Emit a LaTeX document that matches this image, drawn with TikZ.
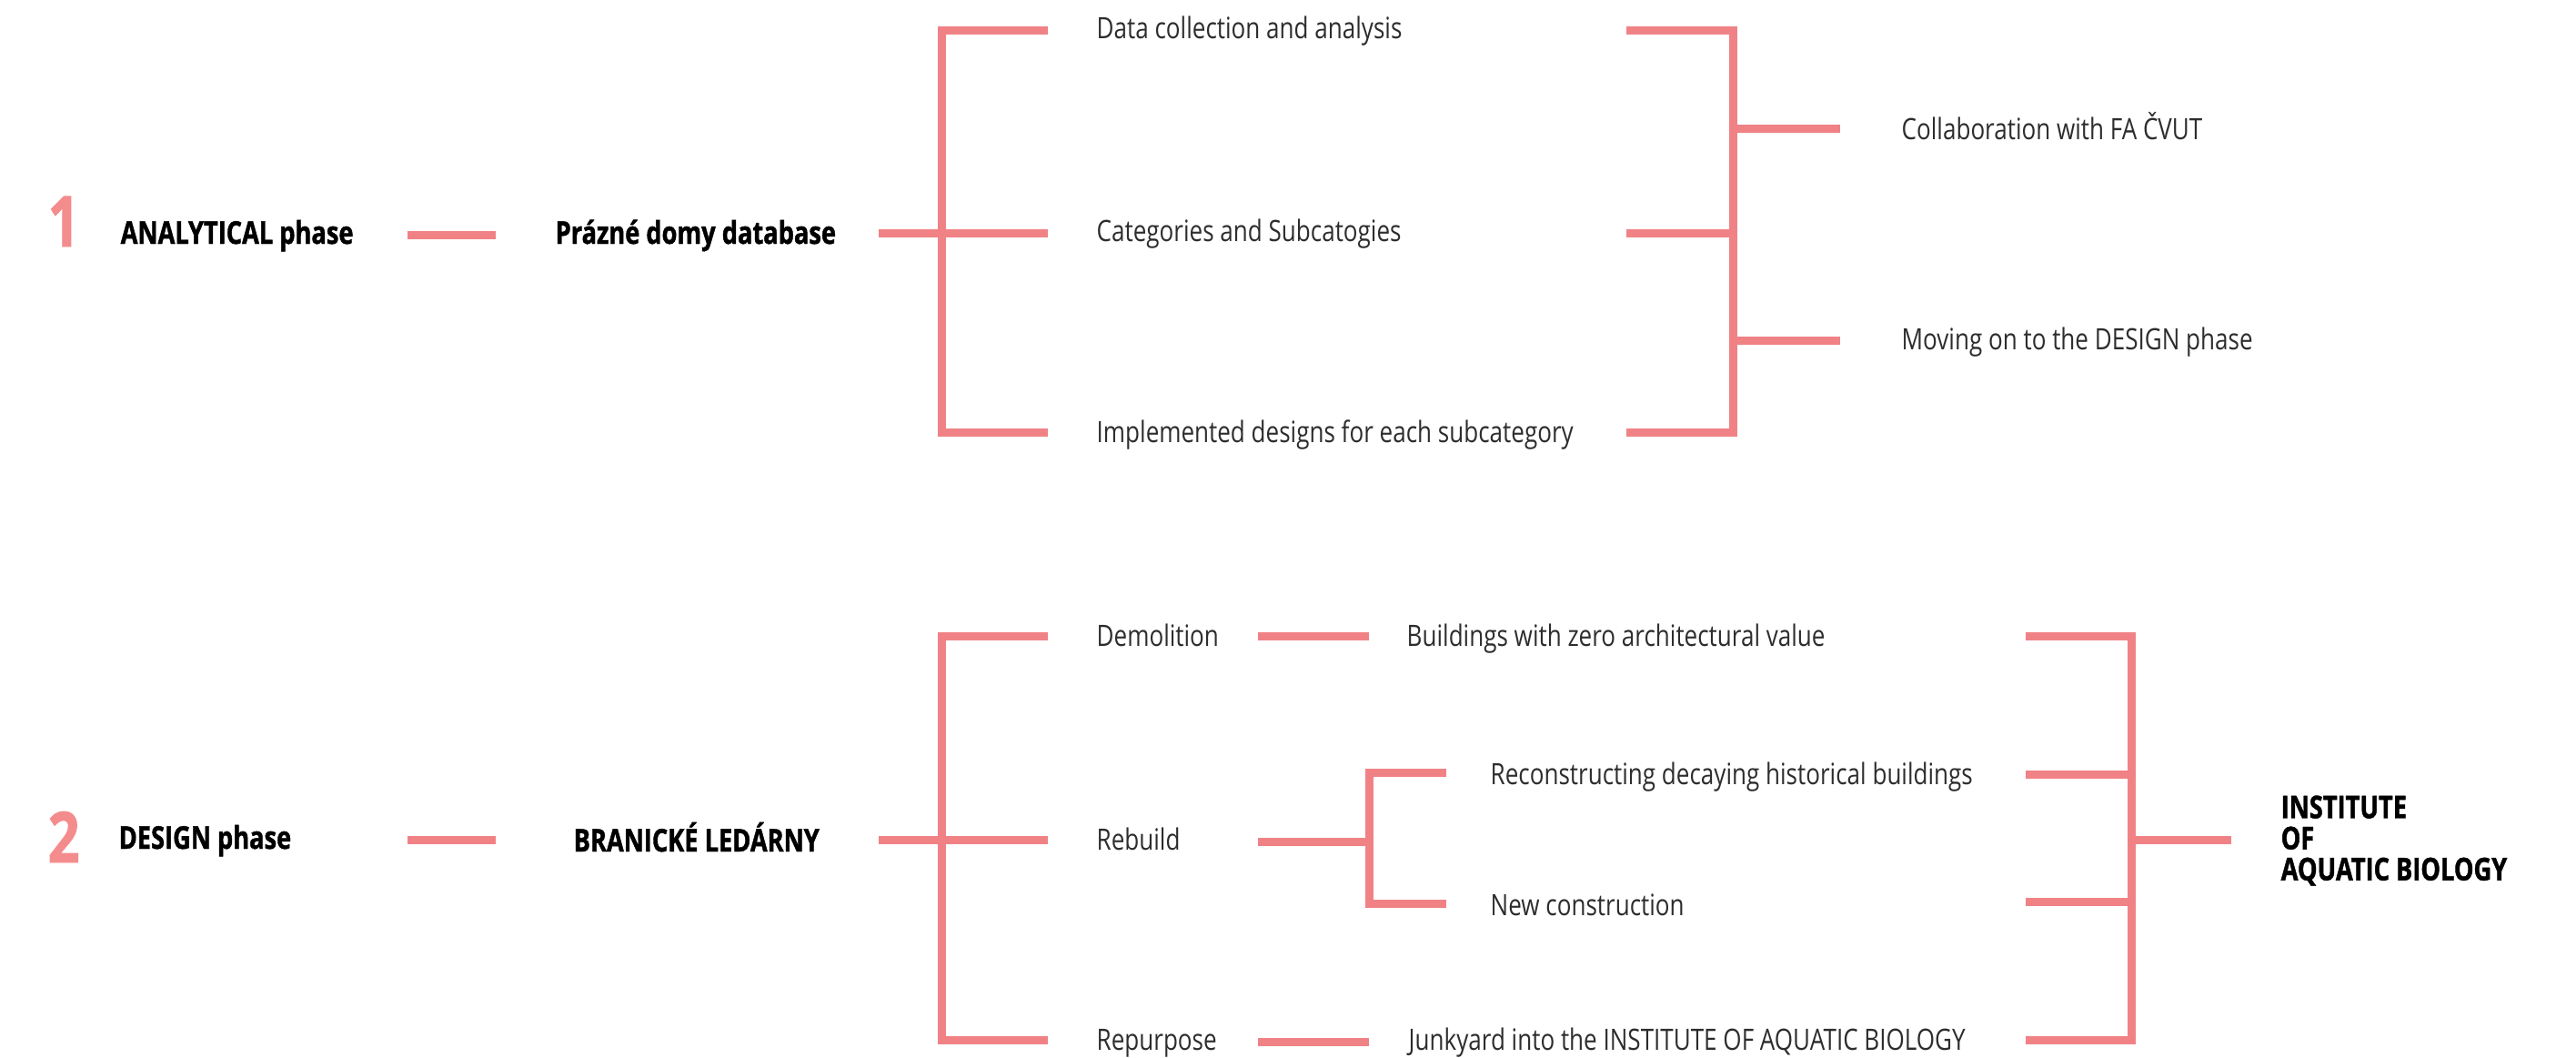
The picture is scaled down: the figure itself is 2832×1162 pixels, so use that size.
\documentclass[tikz,border=0pt]{standalone}
\usepackage{fontspec}
\setmainfont{Open Sans}
\newfontfamily\itemfont{Open Sans}[FakeStretch=0.805]
\newfontfamily\headfont{Open Sans}[FakeStretch=0.79,BoldFeatures={FakeBold=1.2}]
\begin{document}
\begin{tikzpicture}[x=0.01cm,y=-0.01cm]
  % Colors
  \definecolor{barcolor}{RGB}{240,130,134}
  \definecolor{numcolor}{RGB}{244,140,142}
  \definecolor{itemcolor}{RGB}{45,45,45}

  % Styles
  \tikzstyle{bar line}=[barcolor,line width=0.09cm]
  \tikzstyle{head text}=[anchor=base west,inner sep=0pt,font=\headfont\bfseries\fontsize{9.8pt}{9.7pt}\selectfont]
  \tikzstyle{item text}=[anchor=base west,inner sep=0pt,text=itemcolor,font=\itemfont\fontsize{9.2pt}{11pt}\selectfont]
  \tikzstyle{phase number}=[anchor=base west,inner sep=0pt,text=numcolor,font=\headfont\bfseries\fontsize{22pt}{24pt}\selectfont]

  \useasboundingbox (0,0) rectangle (2832,1162);

  % 1 -- ANALYTICAL phase
  \node[phase number] (one) at (52,271) {1};
  \node[head text] (analytical) at (132,268) {ANALYTICAL phase};
  \node[head text] (database) at (610,268) {Prázné domy database};
  \node[item text] (collection) at (1205,42) {Data collection and analysis};
  \node[item text] (categories) at (1205,265) {Categories and Subcatogies};
  \node[item text] (implemented) at (1205,486) {Implemented designs for each subcategory};
  \node[item text] (collab) at (2090,153) {Collaboration with FA ČVUT};
  \node[item text] (moving) at (2090,384) {Moving on to the DESIGN phase};

  \coordinate (analyticalL) at (448,258);
  \coordinate (analyticalR) at (545,258);
  \coordinate (databaseR) at (966,256);
  \coordinate (databaseJ) at (1035,256);
  \coordinate (collectionL) at (1152,33);
  \coordinate (categoriesL) at (1152,256);
  \coordinate (implementedL) at (1152,475);
  \coordinate (collectionR) at (1788,33);
  \coordinate (categoriesR) at (1788,256);
  \coordinate (implementedR) at (1788,475);
  \coordinate (gatherJ) at (1905,256);
  \coordinate (collabJ) at (1905,141);
  \coordinate (collabL) at (2023,141);
  \coordinate (movingJ) at (1905,374);
  \coordinate (movingL) at (2023,374);

  \draw[bar line] (analyticalL) -- (analyticalR);
  \draw[bar line] (databaseR) -- (categoriesL);
  \draw[bar line] (collectionL) -| (databaseJ) |- (implementedL);
  \draw[bar line] (collectionR) -| (gatherJ) |- (implementedR);
  \draw[bar line] (categoriesR) -- (gatherJ);
  \draw[bar line] (collabJ) -- (collabL);
  \draw[bar line] (movingJ) -- (movingL);

  % 2 -- DESIGN phase
  \node[phase number] (two) at (52,948) {2};
  \node[head text] (design) at (130,933) {DESIGN phase};
  \node[head text] (branicke) at (630,936) {BRANICKÉ LEDÁRNY};
  \node[item text] (demolition) at (1205,710) {Demolition};
  \node[item text] (rebuild) at (1205,934) {Rebuild};
  \node[item text] (repurpose) at (1205,1154) {Repurpose};
  \node[item text] (zero) at (1546,710) {Buildings with zero architectural value};
  \node[item text] (reconstruct) at (1638,862) {Reconstructing decaying historical buildings};
  \node[item text] (newbuild) at (1638,1006) {New construction};
  \node[item text] (junkyard) at (1548,1154) {Junkyard into the INSTITUTE OF AQUATIC BIOLOGY};
  \node[head text,anchor=west,align=left] (institute) at (2507,924) {INSTITUTE\\OF\\AQUATIC BIOLOGY};

  \coordinate (designL) at (448,923);
  \coordinate (designR) at (545,923);
  \coordinate (branickeR) at (966,923);
  \coordinate (branickeJ) at (1035,923);
  \coordinate (demolitionL) at (1152,699);
  \coordinate (rebuildL) at (1152,923);
  \coordinate (repurposeL) at (1152,1143);
  \coordinate (demolitionR) at (1383,699);
  \coordinate (zeroL) at (1505,699);
  \coordinate (rebuildR) at (1383,925);
  \coordinate (rebuildJ) at (1505,925);
  \coordinate (reconstructL) at (1590,849);
  \coordinate (newbuildL) at (1590,993);
  \coordinate (repurposeR) at (1383,1145);
  \coordinate (junkyardL) at (1505,1145);
  \coordinate (zeroR) at (2227,699);
  \coordinate (reconstructR) at (2227,851);
  \coordinate (newbuildR) at (2227,991);
  \coordinate (junkyardR) at (2227,1143);
  \coordinate (instituteJ) at (2343,923);
  \coordinate (instituteL) at (2453,923);

  \draw[bar line] (designL) -- (designR);
  \draw[bar line] (branickeR) -- (rebuildL);
  \draw[bar line] (demolitionL) -| (branickeJ) |- (repurposeL);
  \draw[bar line] (demolitionR) -- (zeroL);
  \draw[bar line] (rebuildR) -- (rebuildJ);
  \draw[bar line] (reconstructL) -| (rebuildJ) |- (newbuildL);
  \draw[bar line] (repurposeR) -- (junkyardL);
  \draw[bar line] (zeroR) -| (instituteJ) |- (junkyardR);
  \draw[bar line] (reconstructR) -- (reconstructR -| instituteJ);
  \draw[bar line] (newbuildR) -- (newbuildR -| instituteJ);
  \draw[bar line] (instituteJ) -- (instituteL);
\end{tikzpicture}
\end{document}
